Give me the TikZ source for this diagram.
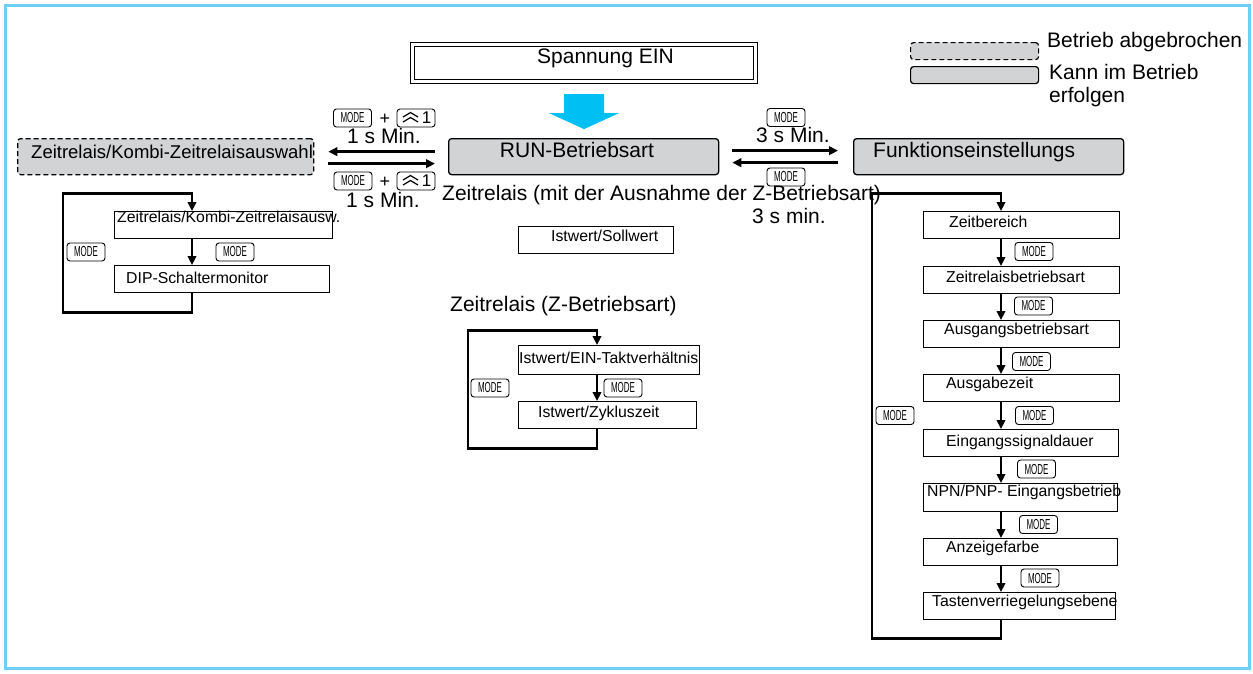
\documentclass[tikz,border=0pt]{standalone}
\usepackage{fontspec}
\setmainfont{Liberation Sans}
\usepackage{graphicx}
\usetikzlibrary{arrows.meta,calc}
\definecolor{framec}{HTML}{6DCFF6}
\definecolor{boxgray}{HTML}{D1D3D4}
\definecolor{bluearrow}{HTML}{00BFF3}
\newcommand\modetxt{\scalebox{0.55}[1]{MODE}}
\newcommand\chevkey[1]{%
  \draw[line width=1.2pt,line join=miter] ([shift={(-13,-1)}]#1.center) -- ++(7.5,-4.5) -- ++(7.5,4.5);
  \draw[line width=1.2pt,line join=miter] ([shift={(-13,4)}]#1.center) -- ++(7.5,-4.5) -- ++(7.5,4.5);}
\begin{document}
\begin{tikzpicture}[x=1pt,y=-1pt,
  big/.style={font=\fontsize{21}{24}\selectfont, inner sep=0pt},
  mid/.style={font=\fontsize{18.5}{22}\selectfont, inner sep=0pt},
  small/.style={font=\fontsize{15.8}{18}\selectfont, inner sep=0pt},
  stepbox/.style={draw, line width=1.3pt, inner sep=0pt, anchor=north west, minimum width=196pt, minimum height=27pt},
  graybox/.style={draw, fill=boxgray, rounded corners=3pt, line width=1.3pt, inner sep=0pt, anchor=north west, minimum width=270pt, minimum height=36pt},
  key/.style={draw, rounded corners=3pt, line width=0.9pt, minimum width=38pt, minimum height=18pt, inner sep=0pt, font=\fontsize{14.5}{14.5}\selectfont},
  chkey/.style={key, font=\fontsize{17}{17}\selectfont},
  plus/.style={font=\fontsize{18}{18}\selectfont, inner sep=0pt},
  flow/.style={line width=2.4pt, line join=miter, -{Triangle[length=9pt,width=8.5pt]}},
]
\useasboundingbox (0,0) rectangle (1253,673);
\draw[framec, line width=3pt] (5,5) rectangle (1249,668);

% Spannung EIN
\node[draw, double, double distance=2.6pt, line width=1.1pt, minimum width=343pt, minimum height=37pt, inner sep=0pt, anchor=north west] (span) at (412,44) {};
\node[big, anchor=base west] (spant) at (537,63) {Spannung EIN};
\fill[bluearrow] ([shift={(-20,12)}]span.south) -- ++(40,0) -- ++(0,19) -- ++(15,0) -- ++(-35,16) -- ++(-35,-16) -- ++(15,0) -- cycle;

% main row
\node[graybox] (run) at (448,138) {};
\node[big, anchor=base] (runt) at (577,157) {RUN-Betriebsart};
\node[graybox, minimum width=270pt] (funk) at (853,138) {};
\node[big, anchor=base west] (funkt) at (873,157) {Funktionseinstellungs};
\node[graybox, dashed, dash pattern=on 5pt off 3pt, minimum width=296pt] (zsel) at (17,138) {};
\node[mid, anchor=base west] (zselt) at (31,158) {Zeitrelais/Kombi-Zeitrelaisauswahl};

% legend
\node[draw, fill=boxgray, dashed, dash pattern=on 5pt off 3pt, rounded corners=3pt, line width=1.2pt, inner sep=0pt, anchor=north west, minimum width=128pt, minimum height=17pt] (lgd1) at (910,42) {};
\node[draw, fill=boxgray, rounded corners=3pt, line width=1.2pt, inner sep=0pt, anchor=north west, minimum width=128pt, minimum height=17pt] (lgd2) at (910,66) {};
\node[big, anchor=base west] (lgt1) at (1047,47) {Betrieb abgebrochen};
\node[big, anchor=base west] (lgt2) at (1049,79) {Kann im Betrieb};
\node[big, anchor=base west] (lgt3) at (1049,102) {erfolgen};

% left arrows
\draw[flow, shorten <=13pt, shorten >=14pt] ([yshift=5pt]run.west) -- ([yshift=5pt]zsel.east);
\draw[flow, shorten <=14pt, shorten >=13pt] ([yshift=-7pt]zsel.east) -- ([yshift=-7pt]run.west);
\node[key] (lk1) at (352.5,118) {\modetxt};
\node[plus] (lp1) at (385,119) {+};
\node[chkey] (lc1) at (416,118) {\hspace*{21pt}1};
\chevkey{lc1}
\node[big, anchor=base] (lt1) at (384,143) {1 s Min.};
\node[key] (lk2) at (353,181) {\modetxt};
\node[plus] (lp2) at (385,182) {+};
\node[chkey] (lc2) at (416,181) {\hspace*{21pt}1};
\chevkey{lc2}
\node[big, anchor=base] (lt2) at (383,207) {1 s Min.};

% right arrows
\draw[flow, shorten <=13pt, shorten >=15pt] ([yshift=6pt]run.east) -- ([yshift=6pt]funk.west);
\draw[flow, shorten <=15pt, shorten >=13pt] ([yshift=-6pt]funk.west) -- ([yshift=-6pt]run.east);
\node[key] (rk1) at (786,117.5) {\modetxt};
\node[big, anchor=base] (rt1) at (793,142) {3 s Min.};
\node[key] (rk2) at (786,177) {\modetxt};
\node[big, anchor=base] (rt2) at (789,223) {3 s min.};

\node[big, anchor=base west] (zmit) at (442,200) {Zeitrelais (mit der Ausnahme der Z-Betriebsart)};

% left group
\node[stepbox, minimum width=218pt] (zk) at (114,211) {};
\node[small, anchor=base west] (zkt) at (117,222) {Zeitrelais/Kombi-Zeitrelaisausw.};
\node[stepbox, minimum width=215pt] (dip) at (114,265) {};
\node[small, anchor=base west] (dipt) at (126,283) {DIP-Schaltermonitor};
\draw[flow] ([xshift=78pt]zk.south west) -- ([xshift=78pt]dip.north west);
\draw[flow] ([xshift=78pt]dip.south west) -- ++(0,19) -- ++(-129,0) -- ++(0,-119) -- ++(129,0) -- ([xshift=78pt]zk.north west);
\node[key] (gk1) at (86,252) {\modetxt};
\node[key] (gk2) at (235,252) {\modetxt};

% Istwert/Sollwert
\node[stepbox, minimum width=155pt] (soll) at (518,226) {};
\node[small, anchor=base west] (sollt) at (551,241) {Istwert/Sollwert};

% Z group
\node[big, anchor=base west] (zbt) at (450,311) {Zeitrelais (Z-Betriebsart)};
\node[stepbox, minimum width=181pt, minimum height=29pt] (ein) at (518,345) {};
\node[small, anchor=base west] (eint) at (519,363) {Istwert/EIN-Taktverhältnis};
\node[stepbox, minimum width=178pt] (zyk) at (518,401) {};
\node[small, anchor=base west] (zykt) at (538,417) {Istwert/Zykluszeit};
\draw[flow] ([xshift=79pt]ein.south west) -- ([xshift=79pt]zyk.north west);
\draw[flow] ([xshift=79pt]zyk.south west) -- ++(0,19) -- ++(-129,0) -- ++(0,-118) -- ++(129,0) -- ([xshift=79pt]ein.north west);
\node[key] (zk1) at (490,388) {\modetxt};
\node[key] (zk2) at (623,388) {\modetxt};

% right group
\node[stepbox] (r1) at (923,211) {};
\node[small, anchor=base west] (r1t) at (949,227) {Zeitbereich};
\node[stepbox] (r2) at (923,266) {};
\node[small, anchor=base west] (r2t) at (946,282) {Zeitrelaisbetriebsart};
\node[stepbox] (r3) at (923,320) {};
\node[small, anchor=base west] (r3t) at (944,334) {Ausgangsbetriebsart};
\node[stepbox] (r4) at (923,374) {};
\node[small, anchor=base west] (r4t) at (946,388) {Ausgabezeit};
\node[stepbox, minimum width=195pt] (r5) at (923,429) {};
\node[small, anchor=base west] (r5t) at (946,446) {Eingangssignaldauer};
\node[stepbox, minimum width=194pt, minimum height=28pt] (r6) at (923,483) {};
\node[small, anchor=base west] (r6t) at (927,496) {NPN/PNP- Eingangsbetrieb};
\node[stepbox, minimum width=194pt] (r7) at (923,538) {};
\node[small, anchor=base west] (r7t) at (946,552) {Anzeigefarbe};
\node[stepbox, minimum width=192pt] (r8) at (923,592) {};
\node[small, anchor=base west] (r8t) at (932,606) {Tastenverriegelungsebene};
\foreach \a/\b in {r1/r2,r2/r3,r3/r4,r4/r5,r5/r6,r6/r7,r7/r8}
  \draw[flow] ([xshift=78pt]\a.south west) -- ([xshift=78pt]\b.north west);
\draw[flow] ([xshift=78pt]r8.south west) -- ++(0,18) -- ++(-129,0) -- ++(0,-445) -- ++(129,0) -- ([xshift=78pt]r1.north west);
\node[key] (fk1) at (1034,251.5) {\modetxt};
\node[key] (fk2) at (1033.5,306) {\modetxt};
\node[key] (fk3) at (1031.5,361.5) {\modetxt};
\node[key] (fk4) at (1034.5,415.5) {\modetxt};
\node[key] (fk5) at (1036.5,469) {\modetxt};
\node[key] (fk6) at (1038.5,524.5) {\modetxt};
\node[key] (fk7) at (1040,578) {\modetxt};
\node[key] (fks) at (895,415.5) {\modetxt};
\end{tikzpicture}
\end{document}
